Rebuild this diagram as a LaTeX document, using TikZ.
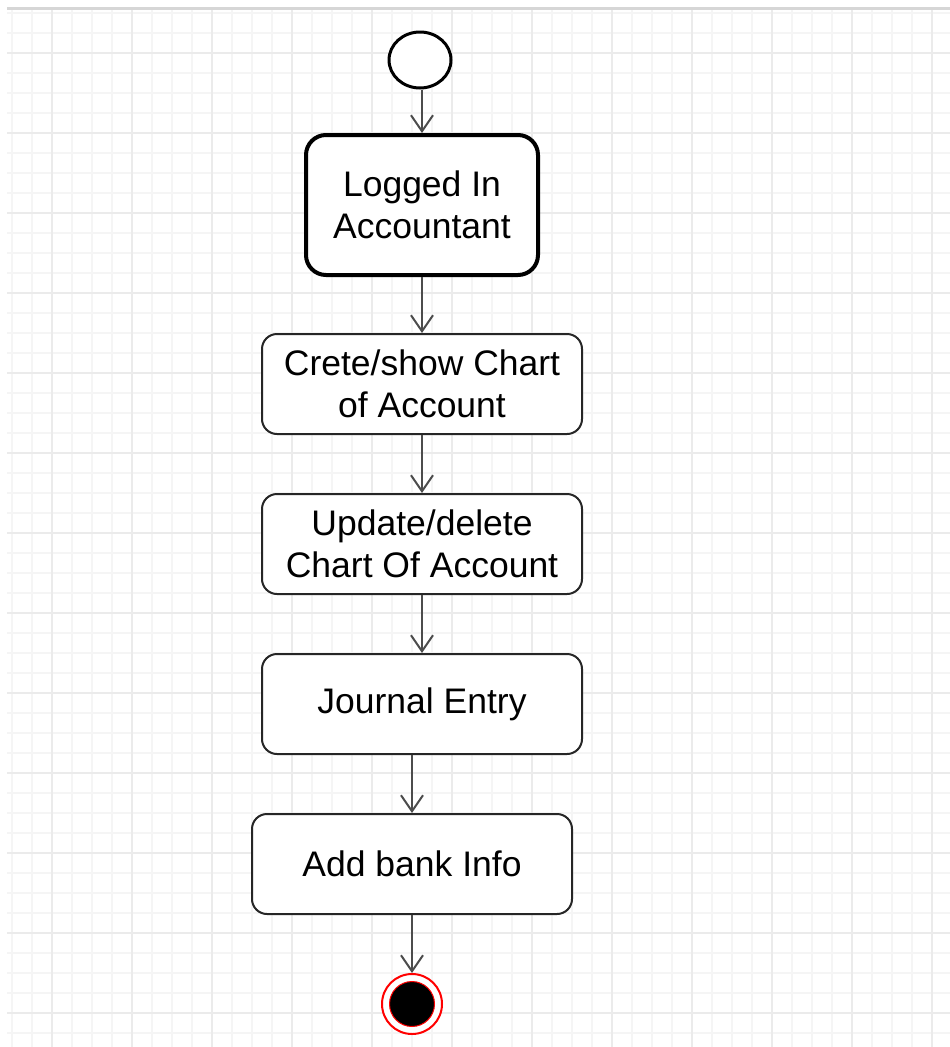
\documentclass[tikz,border=0pt]{standalone}
\usepackage{fontspec}
\setmainfont{Liberation Sans}
\usetikzlibrary{arrows.meta,shapes.geometric}

\begin{document}
\begin{tikzpicture}[x=1pt,y=-1pt,
  minorline/.style={draw=black!4, line width=1.4pt},
  majorline/.style={draw=black!8, line width=1.6pt},
  stepbox/.style={draw=black!85, line width=2pt, rounded corners=15pt, fill=white,
    minimum width=320pt, minimum height=100pt, align=center, inner sep=0pt,
    font=\fontsize{35.5}{42}\selectfont},
  mainbox/.style={stepbox, draw=black, line width=4pt, rounded corners=20pt,
    minimum width=232pt, minimum height=140pt},
  flow/.style={draw=black!70, line width=2pt,
    -{Straight Barb[length=16pt,width=22pt,line width=2pt]}}
]
% canvas
\useasboundingbox (0,0) rectangle (950,1047);
\fill[white] (0,0) rectangle (950,1047);

% background grid
\begin{scope}
  \clip (7,10) rectangle (950,1047);
  \foreach \x in {12,32,...,952} \draw[minorline] (\x,10) -- (\x,1047);
  \foreach \y in {13,33,...,1047} \draw[minorline] (7,\y) -- (950,\y);
  \foreach \x in {52,132,...,952} \draw[majorline] (\x,10) -- (\x,1047);
  \foreach \y in {53,133,...,1047} \draw[majorline] (7,\y) -- (950,\y);
\end{scope}
\draw[black!16, line width=3pt] (7,8.5) -- (950,8.5);

% activity nodes
\node[ellipse, draw=black, line width=3pt, fill=white, minimum width=62pt,
  minimum height=56pt, inner sep=0pt] (start) at (420,60) {};
\node[mainbox] (logged) at (422,205) {Logged In\\Accountant};
\node[stepbox] (crete) at (422,384) {Crete/show Chart\\of Account};
\node[stepbox] (update) at (422,544) {Update/delete\\Chart Of Account};
\node[stepbox] (journal) at (422,704) {Journal Entry};
\node[stepbox] (bank) at (412,864) {Add bank Info};
\node[circle, draw=red, line width=2pt, fill=white, minimum size=60pt,
  inner sep=0pt] (stop) at (412,1004) {};
\node[circle, draw=red, line width=1pt, fill=black, minimum size=45pt,
  inner sep=0pt] (stopcore) at (stop) {};

% control flow
\draw[flow] (logged.north |- start.south) -- (logged.north);
\draw[flow] (logged.south) -- (crete.north);
\draw[flow] (crete.south) -- (update.north);
\draw[flow] (update.south) -- (journal.north);
\draw[flow] (bank.north |- journal.south) -- (bank.north);
\draw[flow] (bank.south) -- (stop.north);
\end{tikzpicture}
\end{document}
